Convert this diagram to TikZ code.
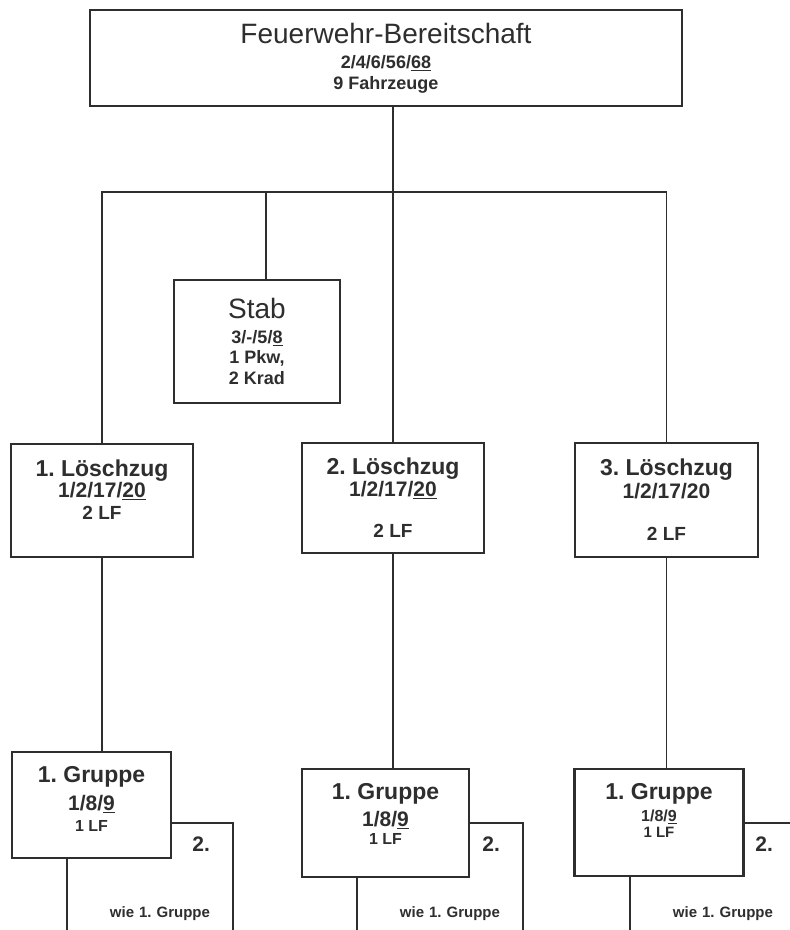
\documentclass[tikz,border=0pt]{standalone}
\usepackage{fontspec}
\setmainfont{Liberation Sans}
\definecolor{ink}{gray}{0.18}
\newcommand{\fwlead}[2]{\frenchspacing\bfseries\fontsize{#1}{#2}\selectfont\lineskiplimit=-50pt}
\newcommand{\fwsize}[1]{\fontsize{#1}{#1}\selectfont}
\newcommand{\fwpad}[1]{\rule[-#1]{0pt}{#1}}
\begin{document}
\begin{tikzpicture}[x=1pt, y=-1pt, color=ink, text=ink,
    box/.style={draw, line width=2.2pt, fill=white, align=center, inner sep=2pt},
    sub/.style={box, minimum width=166pt, minimum height=112pt, text width=120pt,
      inner xsep=23pt, align=right, font=\fwlead{15}{21}},
    link/.style={line width=1.2pt}]
    \useasboundingbox (0,0) rectangle (790,930);

    \node[box, minimum width=592pt, minimum height=96pt, font=\fwlead{18}{21}] (fwb) at (386,58)
        {{\mdseries\fwsize{28}Feuerwehr-Bereitschaft}\\[4pt] 2/4/6/56/\underline{68}\\ 9 Fahrzeuge};
    \node[box, minimum width=166pt, minimum height=123pt, font=\fwlead{18}{20}] (stab) at (257,341.5)
        {{\mdseries\fwsize{28}Stab}\\[5pt] 3/-/5/\underline{8}\\ 1 Pkw,\\[1pt] 2 Krad};

    \node[box, minimum width=182pt, minimum height=113pt, font=\fwlead{21}{21}] (lz1) at (102,500.5)
        {{\fwsize{23}1. Löschzug}\\ 1/2/17/\underline{20}\\[1pt] {\fwsize{19}2 LF\fwpad{21pt}}};
    \node[box, minimum width=182pt, minimum height=110pt, font=\fwlead{21}{21}] (lz2) at (393,498)
        {{\fwsize{23}2. Löschzug}\\[1pt] 1/2/17/\underline{20}\\[20pt] {\fwsize{19}2 LF}};
    \node[box, minimum width=183pt, minimum height=114pt, font=\fwlead{21}{21}] (lz3) at (666.5,500)
        {{\fwsize{23}3. Löschzug}\\[2pt] 1/2/17/20\\[21pt] {\fwsize{19}2 LF}};

    % second groups, partly hidden behind the first ones
    \node[sub] (gr1b) at (150,879) {{\fwsize{21}2.}\\[45pt] wie 1. Gruppe};
    \node[sub] (gr2b) at (440,879) {{\fwsize{21}2.}\\[45pt] wie 1. Gruppe};
    \node[sub] (gr3b) at (713,879) {{\fwsize{21}2.}\\[45pt] wie 1. Gruppe};

    \node[box, minimum width=159pt, minimum height=106pt, font=\fwlead{21}{21}] (gr1) at (91.5,805)
        {{\fwsize{23}1. Gruppe}\\[7pt] 1/8/\underline{9}\\ {\fwsize{16}1 LF\fwpad{12pt}}};
    \node[box, minimum width=167pt, minimum height=108pt, font=\fwlead{21}{21}] (gr2) at (385.5,823)
        {{\fwsize{23}1. Gruppe}\\[6pt] 1/8/\underline{9}\\[-3pt] {\fwsize{16}1 LF\fwpad{18pt}}};
    \node[box, minimum width=169pt, minimum height=107pt, font=\fwlead{16}{21}] (gr3) at (659,822.5)
        {{\fwsize{23}1. Gruppe}\\[1pt] 1/8/\underline{9}\\[-5pt] {\fwsize{15}1 LF\fwpad{24pt}}};

    \coordinate (bus) at (393,192);
    \draw[link] (fwb.south -| lz2) -- (lz2);
    \draw[link] (lz1) |- (bus) -| (lz3);
    \draw[link] ([xshift=9pt]stab.north) -- ([xshift=9pt]stab.north |- bus);
    \draw[link] (lz1) -- (lz1 |- gr1.north);
    \draw[link] (lz2) -- (lz2 |- gr2.north);
    \draw[link] (lz3) -- (lz3 |- gr3.north);
\end{tikzpicture}
\end{document}
